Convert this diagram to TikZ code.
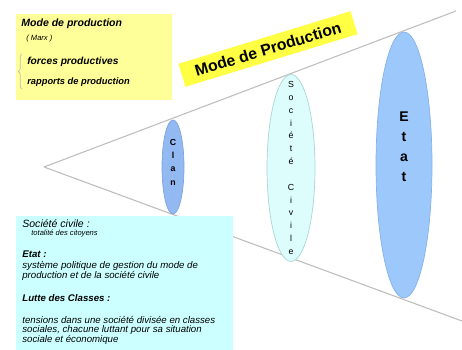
\documentclass[tikz,border=0pt]{standalone}
\usepackage{fontspec}
\setmainfont{Liberation Sans}
\usepackage{tikz}
\usetikzlibrary{positioning,shapes.geometric,decorations.pathreplacing}
\definecolor{CadreJaune}{HTML}{FFFF99}
\definecolor{Bandeau}{HTML}{FFFF44}
\definecolor{CadreCyan}{HTML}{CCFFFF}
\definecolor{ClanBleu}{HTML}{93B9F2}
\definecolor{ClanBord}{HTML}{7FA4DA}
\definecolor{SocCyan}{HTML}{DDFCFC}
\definecolor{SocBord}{HTML}{A9D6D6}
\definecolor{EtatBleu}{HTML}{9DC8FB}
\definecolor{EtatBord}{HTML}{86B2E6}
\definecolor{Trait}{HTML}{BDBDBD}

\begin{document}
\begin{tikzpicture}[x=0.02cm,y=-0.02cm,
    cone/.style={Trait,line width=0.6pt},
    bulle/.style={ellipse,inner sep=0pt,line width=0.4pt},
    lettres/.style={align=center,inner sep=0pt},
    cadre/.style={anchor=north west,inner sep=0pt},
    txt/.style={anchor=west,inner sep=0pt,font=\itshape\fontsize{5.5}{6.6}\selectfont},
    txtgras/.style={txt,font=\bfseries\itshape\fontsize{5.5}{6.6}\selectfont}]
  \useasboundingbox (0,0) rectangle (462,350);
  % cone
  \coordinate (apex) at (44,167);
  \coordinate (haut) at (456,11);
  \coordinate (bas) at (462,321);
  \draw[cone] (apex) -- (haut);
  \draw[cone] (apex) -- (bas);
  % niveaux
  \node[bulle,fill=ClanBleu,draw=ClanBord,minimum width=0.44cm,minimum height=1.88cm] (clan) at (173,167) {};
  \node[bulle,fill=SocCyan,draw=SocBord,minimum width=0.96cm,minimum height=3.74cm] (societe) at (291,168) {};
  \node[bulle,fill=EtatBleu,draw=EtatBord,minimum width=1.12cm,minimum height=5.32cm] (etat) at (404,165) {};
  \node[lettres,font=\bfseries\fontsize{5}{7.6}\selectfont] (clantxt) at (173,162) {C\\l\\a\\n};
  \node[lettres,font=\fontsize{5}{7.3}\selectfont] (soctxt) at (291,168) {S\\o\\c\\i\\é\\t\\é\\[7.3pt]C\\i\\v\\i\\l\\e};
  \node[lettres,font=\bfseries\fontsize{8}{11.3}\selectfont] (etattxt) at (404,147) {E\\t\\a\\t};
  % bandeau
  \node[fill=Bandeau,rotate=17,minimum width=3.6cm,minimum height=0.48cm,inner sep=0pt,
        font=\bfseries\fontsize{9}{10}\selectfont] (bandeau) at (268,49) {Mode de Production};
  % cadre jaune
  \node[cadre,fill=CadreJaune,minimum width=3.12cm,minimum height=1.72cm] (boxmode) at (16,14) {};
  \node[txtgras,font=\bfseries\itshape\fontsize{6}{7}\selectfont] (mp) at (21,24) {Mode de production};
  \node[txt,font=\itshape\fontsize{4.3}{5}\selectfont] (marx) at (26,39) {( Marx )};
  \node[txtgras,font=\bfseries\itshape\fontsize{5.8}{7}\selectfont] (forces) at (27,62) {forces productives};
  \node[txtgras,font=\bfseries\itshape\fontsize{5.3}{7}\selectfont] (rapports) at (27,82) {rapports de production};
  \draw[Trait,line width=0.4pt,decorate,decoration={brace,amplitude=2pt}] (22,89) -- (22,54);
  % cadre cyan
  \node[cadre,fill=CadreCyan,minimum width=4.34cm,minimum height=2.8cm] (boxdef) at (16,216) {};
  \node[txt,font=\itshape\fontsize{6}{7}\selectfont] (sc) at (22,224) {Société civile :};
  \node[txt,font=\itshape\fontsize{4.3}{5}\selectfont] (tot) at (31,234) {totalité des citoyens};
  \node[txtgras] (et) at (22,254) {Etat :};
  \node[txt] (sys1) at (22,266) {système politique de gestion du mode de};
  \node[txt] (sys2) at (22,276) {production et de la société civile};
  \node[txtgras] (lutte) at (22,298) {Lutte des Classes :};
  \node[txt] (ten1) at (22,320) {tensions dans une société divisée en classes};
  \node[txt] (ten2) at (22,330) {sociales, chacune luttant pour sa situation};
  \node[txt] (ten3) at (22,340) {sociale et économique};
\end{tikzpicture}
\end{document}
